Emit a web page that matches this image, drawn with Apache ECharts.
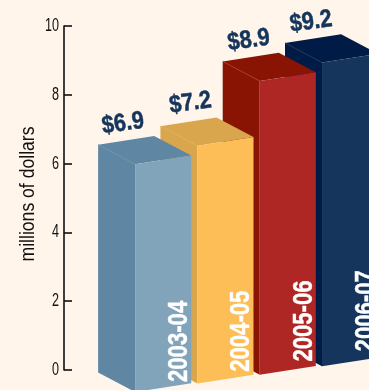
<!DOCTYPE html>
<html>
<head>
<meta charset="utf-8">
<style>
html,body{margin:0;padding:0;background:#fff5ea;overflow:hidden}
#chart{width:369px;height:390px}
</style>
<script src="https://cdn.jsdelivr.net/npm/echarts@6/dist/echarts.min.js"></script>
</head>
<body>
<div id="chart"></div>
<script>
// Annual funding, in millions of dollars
const seasons = ['2003-04', '2004-05', '2005-06', '2006-07'];
const funding = [6.9, 7.2, 8.9, 9.2];
const yTickValues = [0, 2, 4, 6, 8, 10];
const yTitle = 'millions of dollars';

// Front face and side/top face colours for each block
const frontColors = ['#82a4ba', '#fdbe58', '#ae2725', '#15355c'];
const sideColors = ['#5f87a3', '#d9a54d', '#8a1404', '#001b45'];
const edgeColors = ['#6c91aa', '#e0ae5c', '#a0392a', '#1b3257'];

// Small hand adjustments to the dollar captions
const captionNudge = [[0, 0], [5, -2], [1, 0], [1, 0]];

const FONT = '"Liberation Sans",sans-serif';
const DEPTH_X = -37, DEPTH_Y = -19.5;   // oblique extrusion of each block
const FACE_SLOPE = 0.155;               // rise of a front face from left to right
const FLOOR_SLOPE = 8.6;                // rise of the floor line per category
const FLOOR_DROP = 22;                  // first block's front corner below the zero line
const SEASON_SLOPE = 10.2;              // rise of the season captions per category
const SEASON_DROP = 12;                 // first season caption's foot below the zero line

function renderBlock(params, api) {
  const i = api.value(0), v = api.value(1);
  const centre = api.coord([i, 0]);
  const top = api.coord([i, v]);
  const w = api.size([1, 0])[0] * 0.9;
  const h = centre[1] - top[1];
  const x0 = centre[0] - w / 2;
  const bottom = centre[1] + FLOOR_DROP - FLOOR_SLOPE * i;
  const tl = [x0, bottom - h];
  const tr = [x0 + w, bottom - h - w * FACE_SLOPE];
  const bl = [x0, bottom];
  const br = [x0 + w, bottom - w * FACE_SLOPE];
  const back = p => [p[0] + DEPTH_X, p[1] + DEPTH_Y];
  const layer = (seasons.length - i) * 10;
  return {
    type: 'group',
    children: [
      {type: 'polygon', z2: layer, shape: {points: [tl, bl, back(bl), back(tl)]}, style: {fill: sideColors[i]}},
      {type: 'polygon', z2: layer, shape: {points: [tl, back(tl), back(tr), tr]}, style: {fill: sideColors[i]}},
      {type: 'line', z2: layer + 1, shape: {x1: tl[0], y1: tl[1], x2: back(tl)[0], y2: back(tl)[1]},
        style: {stroke: edgeColors[i], lineWidth: 1}},
      {type: 'polygon', z2: layer + 2, shape: {points: [tl, bl, br, tr]}, style: {fill: frontColors[i]}},
      {type: 'text', z2: 100, x: tr[0] + 2, y: centre[1] + SEASON_DROP - SEASON_SLOPE * i,
        rotation: Math.PI / 2, scaleX: 0.79,
        style: {text: seasons[i], fill: '#fff', stroke: '#fff', lineWidth: 0.4,
          font: 'bold 28px ' + FONT, align: 'left', verticalAlign: 'bottom'}},
      {type: 'text', z2: 100, x: back(tl)[0] + 25 + captionNudge[i][0], y: back(tl)[1] - 21 + captionNudge[i][1],
        rotation: 8 * Math.PI / 180, scaleX: 0.87,
        style: {text: '$' + v.toFixed(1), fill: '#15355c', stroke: '#15355c', lineWidth: 0.5,
          font: 'bold 25px ' + FONT, align: 'center', verticalAlign: 'middle'}}
    ]
  };
}

// Narrowed tick labels, placed on the value axis
function renderTickLabel(params, api) {
  const v = api.value(0);
  const p = api.coord([0, v]);
  return {
    type: 'text', x: 59, y: p[1], scaleX: 0.7,
    style: {text: String(v), fill: '#111', font: '18px ' + FONT, align: 'right', verticalAlign: 'middle'}
  };
}

const chart = echarts.init(document.getElementById('chart'), null, {renderer: 'canvas'});
chart.setOption({
  animation: false,
  backgroundColor: '#fff5ea',
  grid: {left: 132, top: 26, width: 249.2, height: 344, outerBoundsMode: 'none'},
  xAxis: {type: 'category', data: seasons, show: false},
  yAxis: [
    {
      type: 'value', min: 0, max: 10, interval: 2, offset: 68,
      axisLine: {show: true, lineStyle: {color: '#111', width: 1.6}},
      axisTick: {show: true, inside: true, length: 8, lineStyle: {color: '#111', width: 1.6}},
      axisLabel: {show: false},
      splitLine: {show: false}
    },
    // Scale the blocks are measured on; drawn without axis furniture
    {type: 'value', min: 0, max: 10.42, show: false, splitLine: {show: false}}
  ],
  graphic: [{
    type: 'text', x: 28, y: 194, rotation: Math.PI / 2, scaleX: 0.88,
    style: {text: yTitle, fill: '#111', font: '20px ' + FONT, align: 'center', verticalAlign: 'middle'}
  }],
  series: [
    {
      type: 'custom', yAxisIndex: 0, clip: false, renderItem: renderTickLabel,
      encode: {y: 0}, data: yTickValues.map(v => [v])
    },
    {
      type: 'custom', yAxisIndex: 1, clip: false, renderItem: renderBlock,
      encode: {x: 0, y: 1}, data: funding.map((v, i) => [i, v])
    }
  ]
});
</script>
</body>
</html>
